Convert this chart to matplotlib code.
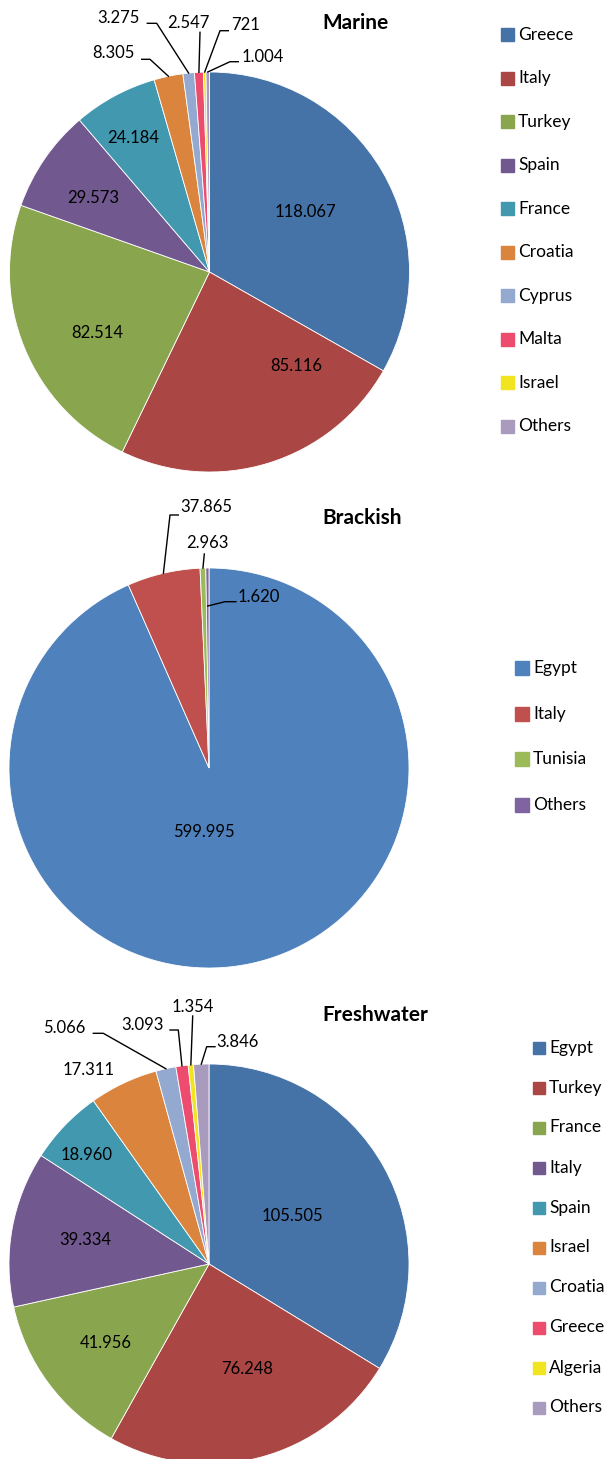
import numpy as np
import matplotlib
matplotlib.use("Agg")
import matplotlib.pyplot as plt
from matplotlib.patches import Rectangle

plt.rcParams['font.family'] = ['Lato', 'DejaVu Sans']

# data (tonnes)
marine_countries = ["Greece", "Italy", "Turkey", "Spain", "France",
                    "Croatia", "Cyprus", "Malta", "Israel", "Others"]
marine_values = [118067, 85116, 82514, 29573, 24184, 8305, 3275, 2547, 721, 1004]

brackish_countries = ["Egypt", "Italy", "Tunisia", "Others"]
brackish_values = [599995, 37865, 2963, 1620]

fresh_countries = ["Egypt", "Turkey", "France", "Italy", "Spain",
                   "Israel", "Croatia", "Greece", "Algeria", "Others"]
fresh_values = [105505, 76248, 41956, 39334, 18960, 17311, 5066, 3093, 1354, 3846]

# colours
dark_pal = ["#4572A7", "#AA4643", "#89A54E", "#71588F", "#4198AF",
            "#DB843D", "#93A9CF", "#EE4C6E", "#F2E41E", "#A99BBD"]
light_pal = ["#4F81BD", "#C0504D", "#9BBB59", "#8064A2"]

W, H = 604, 1459
fig = plt.figure(figsize=(W / 100, H / 100), dpi=100)

# overlay for titles and legends, pixel coords
ov = fig.add_axes([0, 0, 1, 1])
ov.set_xlim(0, W)
ov.set_ylim(H, 0)
ov.axis('off')


def fmt(v):
    return f"{v:,}".replace(",", ".")


def mid_angle(values, i):
    tot = float(sum(values))
    cum = sum(values[:i]) / tot
    return 2 * np.pi * (cum + values[i] / tot / 2)   # clockwise from top


def draw_pie(cx, cy, values, colors, inside, outside):
    ax = fig.add_axes([(cx - 200) / W, (H - cy - 200) / H, 400 / W, 400 / H])
    ax.pie(values, colors=colors, startangle=90, counterclock=False,
           radius=200, wedgeprops=dict(edgecolor='white', linewidth=0.6))
    ax.set_xlim(-200, 200)
    ax.set_ylim(-200, 200)
    ax.axis('off')
    # labels inside / next to the slice
    for i, (frac, off) in inside.items():
        a = mid_angle(values, i) + np.radians(off)
        ax.text(200 * frac * np.sin(a), 200 * frac * np.cos(a), fmt(values[i]),
                ha='center', va='center', fontsize=12, color='black', clip_on=False)
    # labels with leader lines
    for i, (tx, ty, pts, r) in outside.items():
        a = mid_angle(values, i)
        ex, ey = 200 * r * np.sin(a), 200 * r * np.cos(a)
        xs = [p[0] for p in pts] + [ex]
        ys = [p[1] for p in pts] + [ey]
        ax.plot(xs, ys, color='black', lw=1.0, clip_on=False)
        ax.text(tx, ty, fmt(values[i]), ha='center', va='center',
                fontsize=12, color='black', clip_on=False)
    return ax


def draw_legend(x0, y0, step, names, colors, size=13):
    for k, (n, c) in enumerate(zip(names, colors)):
        y = y0 + k * step
        ov.add_patch(Rectangle((x0, y - size / 2), size, size, color=c))
        ov.text(x0 + size + 4, y, n, ha='left', va='center', fontsize=12.5)


# Marine
draw_pie(209.5, 272, marine_values, dark_pal,
         inside={0: (0.565, -2), 1: (0.64, -25.7), 2: (0.64, -6),
                 3: (0.69, -2), 4: (0.77, -1.5)},
         outside={5: (-96, 219, [(-67.8, 212.7), (-59.5, 212.7)], 1.0),
                  6: (-91, 254, [(-62.2, 248.7), (-52.8, 248.7)], 1.0),
                  7: (-21, 249.5, [(-9.5, 239.7)], 1.0),
                  8: (36.3, 247, [(18.8, 241.3), (10.5, 241.3)], 1.0),
                  9: (53, 214.7, [(28.8, 210.3), (20.5, 210.3)], 1.0)})
ov.text(322, 23, "Marine", fontsize=15, fontweight='bold', ha='left', va='center')
draw_legend(501, 34.5, 43.5, marine_countries, dark_pal)

# Brackish
draw_pie(209, 768, brackish_values, light_pal,
         inside={0: (0.32, 16.5)},
         outside={1: (-2.3, 261.3, [(-30.7, 253), (-39, 253)], 1.0),
                  2: (-1.5, 224.7, [(-4.7, 214)], 1.0),
                  3: (49.7, 171.3, [(27, 166.3), (16, 166.3)], 0.81)})
ov.text(322, 518, "Brackish", fontsize=15, fontweight='bold', ha='left', va='center')
draw_legend(515, 668, 45.67, brackish_countries, light_pal, size=14)

# Freshwater
draw_pie(209, 1264, fresh_values, dark_pal,
         inside={0: (0.48, -1), 1: (0.56, -5.4), 2: (0.65, -0.8),
                 3: (0.63, 0.8), 4: (0.82, -2), 5: (1.14, -6.4)},
         outside={6: (-145, 235.7, [(-115.7, 230.7), (-105.7, 230.7)], 1.0),
                  7: (-66.5, 239, [(-39, 234), (-30.7, 234)], 1.0),
                  8: (-15.8, 257.3, [(-16.3, 248)], 1.0),
                  9: (28.5, 222.3, [(6, 217.3), (-2.3, 217.3)], 1.0)})
ov.text(322, 1015, "Freshwater", fontsize=15, fontweight='bold', ha='left', va='center')
draw_legend(533, 1047.5, 40.0, fresh_countries, dark_pal, size=12)

fig.savefig("out.png", dpi=100)
